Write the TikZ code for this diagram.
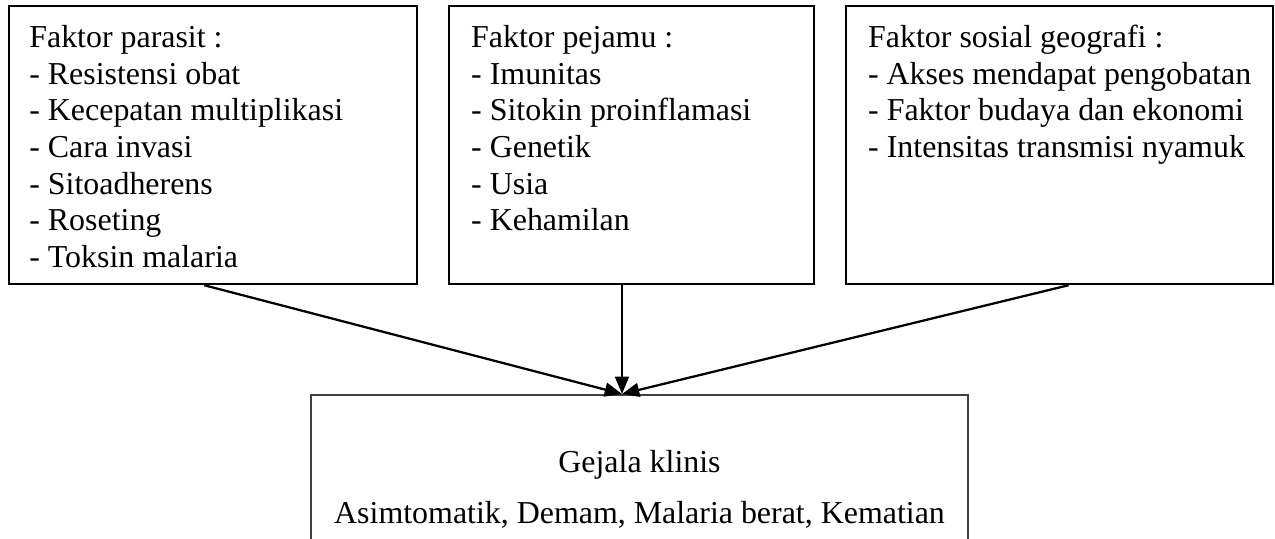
\documentclass[tikz,border=0pt]{standalone}
\usepackage{fontspec}
\setmainfont{Liberation Serif}
\usetikzlibrary{arrows.meta,calc}

\begin{document}
\begin{tikzpicture}[
  x=0.376pt, y=-0.376pt,
  faktor/.style={draw, line width=0.85pt, anchor=north west,
    inner ysep=0pt, inner xsep=7.6pt, font=\fontsize{12}{13.8}\selectfont},
  hasil/.style={draw=black!75, line width=0.65pt, anchor=north,
    inner ysep=0pt, inner xsep=3.5pt, font=\fontsize{12}{13.8}\selectfont},
  panah/.style={-{Triangle[length=6.5pt,width=5.2pt]}, line width=0.85pt}
]
  \useasboundingbox (0,0) rectangle (1275,538);
  \clip (0,0) rectangle (1275,538);

  \node[faktor] (parasit) at (8,5) {\parbox[t][104.5pt][t]{138.2pt}{\raggedright
    \rule{0pt}{15.5pt}Faktor parasit :\\
    - Resistensi obat\\
    - Kecepatan multiplikasi\\
    - Cara invasi\\
    - Sitoadherens\\
    - Roseting\\
    - Toksin malaria}};
  \node[faktor, inner xsep=8.3pt] (pejamu) at (448,5) {\parbox[t][104.5pt][t]{120.6pt}{\raggedright
    \rule{0pt}{15.5pt}Faktor pejamu :\\
    - Imunitas\\
    - Sitokin proinflamasi\\
    - Genetik\\
    - Usia\\
    - Kehamilan}};
  \node[faktor, inner xsep=8.3pt] (sosial) at (845,5) {\parbox[t][104.5pt][t]{144pt}{\raggedright
    \rule{0pt}{15.5pt}Faktor sosial geografi :\\
    - Akses mendapat pengobatan\\
    - Faktor budaya dan ekonomi\\
    - Intensitas transmisi nyamuk}};

  \node[hasil] (gejala) at (639.5,394) {\parbox[t][80pt][t]{240pt}{\centering
    \rule{0pt}{29.2pt}Gejala klinis\\[5.4pt]
    Asimtomatik, Demam, Malaria berat, Kematian}};
  \coordinate (masuk) at ($(gejala.north)+(-17.5,0)$);

  \draw[panah] ($(parasit.south)+(-9,0)$) -- (masuk);
  \draw[panah] (pejamu.south -| masuk) -- (masuk);
  \draw[panah] ($(sosial.south)+(9,0)$) -- (masuk);
\end{tikzpicture}
\end{document}
